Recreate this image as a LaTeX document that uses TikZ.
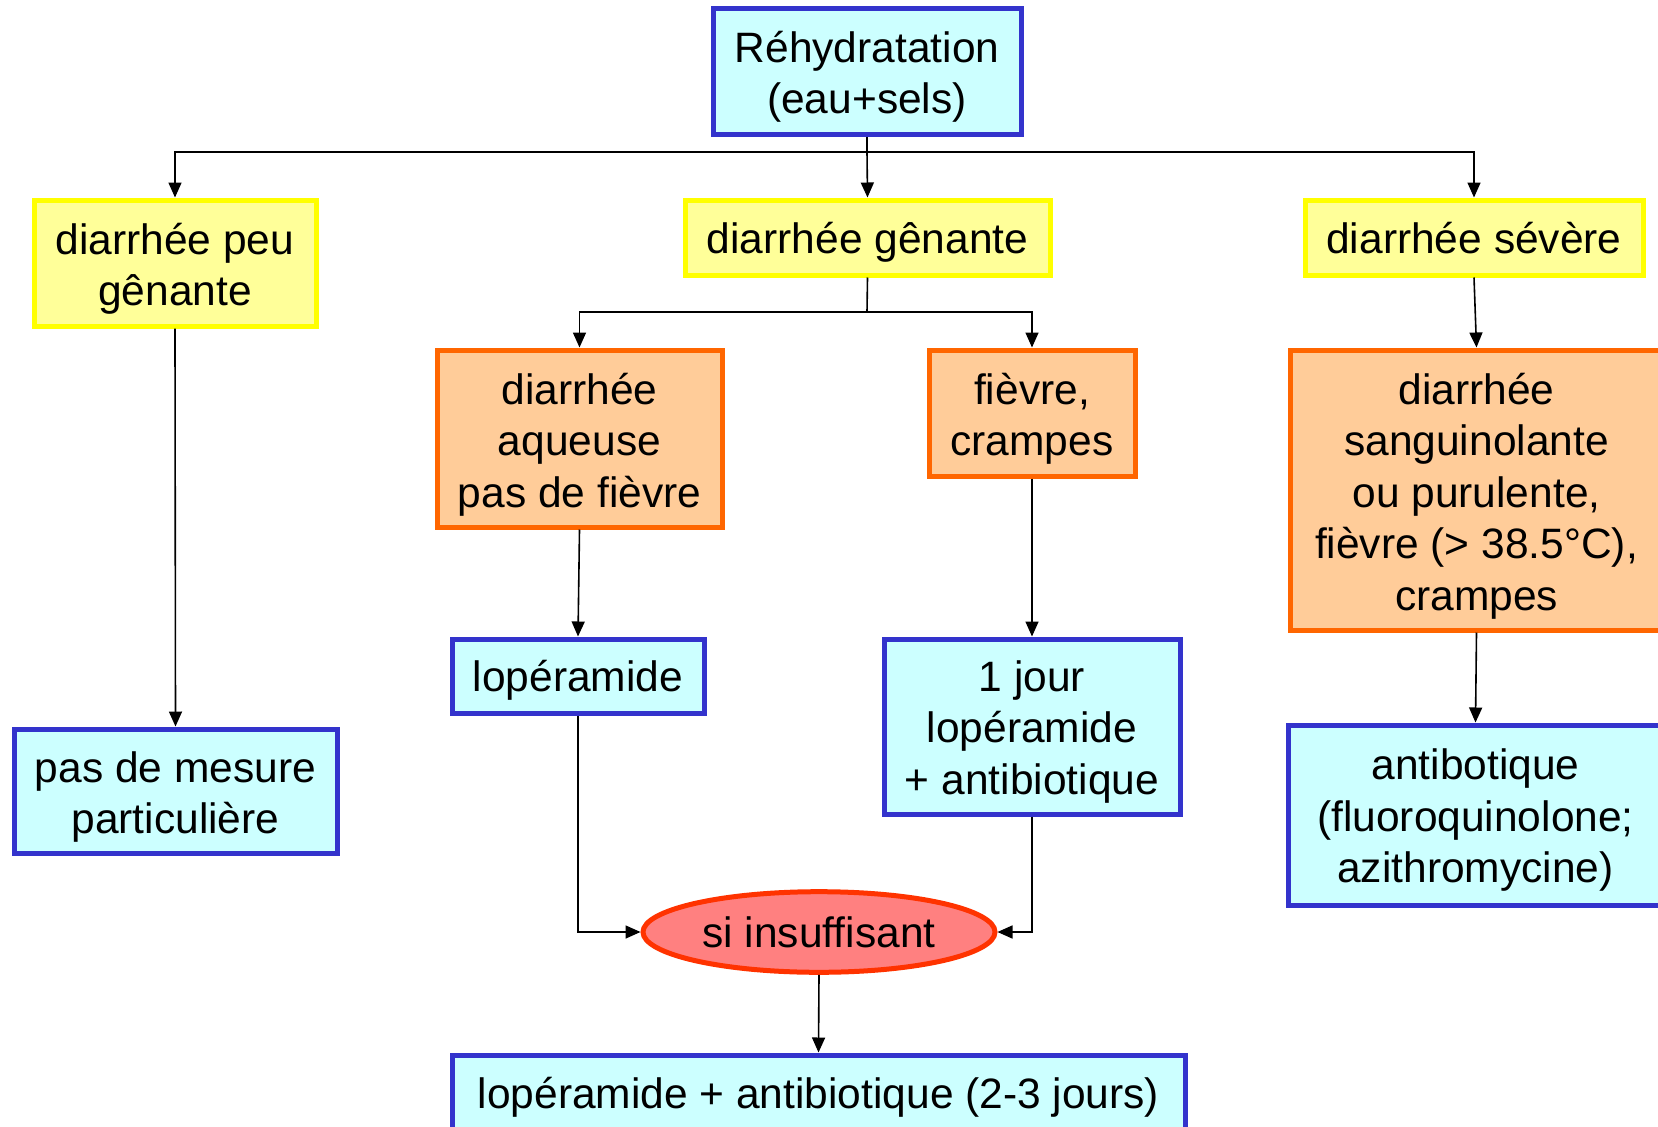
\documentclass[tikz,border=0pt]{standalone}
\usepackage{fontspec}
\setmainfont{Liberation Sans}
\usetikzlibrary{arrows.meta,shapes.geometric}
\definecolor{bluebd}{HTML}{3333CC}
\definecolor{cyanfill}{HTML}{CCFFFF}
\definecolor{yelbd}{HTML}{FFFF00}
\definecolor{yelfill}{HTML}{FFFF99}
\definecolor{orbd}{HTML}{FF6600}
\definecolor{orfill}{HTML}{FFCC99}
\definecolor{redbd}{HTML}{FF3300}
\definecolor{redfill}{HTML}{FF8080}
\tikzset{
  base/.style={draw, line width=5pt, inner sep=0pt, align=flush center,
    font=\fontsize{42.5}{51.5}\selectfont,
    execute at begin node={\rule{0pt}{#1}},
    execute at end node={\rule[-13pt]{0pt}{0pt}}},
  base/.default=44pt,
  bluebox/.style={base=#1, rectangle, draw=bluebd, fill=cyanfill},
  bluebox/.default=44pt,
  yelbox/.style={base=#1, rectangle, draw=yelbd, fill=yelfill},
  yelbox/.default=44pt,
  orbox/.style={base=#1, rectangle, draw=orbd, fill=orfill},
  orbox/.default=44pt,
  redell/.style={base, ellipse, draw=redbd, fill=redfill},
  arr/.style={line width=1.6pt, -{Triangle[length=15pt,width=13pt]}},
  ln/.style={line width=1.6pt},
}
\begin{document}
\begin{tikzpicture}[x=1pt,y=-1pt]
\clip (0,0) rectangle (1658,1127);
\fill[white] (0,0) rectangle (1658,1127);
\node[bluebox=47pt, text width=296pt, minimum width=308pt, minimum height=126pt] (reh) at (867,71) {Réhydratation\\(eau+sels)};
\node[yelbox=47pt, text width=270pt, minimum width=282pt, minimum height=126pt] (peu) at (175,263) {diarrhée peu\\gênante};
\node[yelbox, minimum width=365pt, minimum height=75pt] (gen) at (867.5,237.5) {diarrhée gênante};
\node[yelbox, minimum width=338pt, minimum height=75pt] (sev) at (1474,237.5) {diarrhée sévère};
\node[orbox=47pt, text width=275pt, minimum width=285pt, minimum height=177pt] (aq) at (579.5,438.5) {diarrhée\\aqueuse\\pas de fièvre};
\node[orbox=47pt, text width=196pt, minimum width=206pt, minimum height=126pt] (fc) at (1032,413) {fièvre,\\crampes};
\node[orbox=47pt, text width=363pt, minimum width=373pt, minimum height=280pt] (sang) at (1476.5,490) {diarrhée\\sanguinolante\\ou purulente,\\fièvre (> 38.5°C),\\crampes};
\node[bluebox, minimum width=252pt, minimum height=74pt] (lop) at (578,676) {lopéramide};
\node[bluebox=45pt, text width=286pt, minimum width=296pt, minimum height=175pt] (jour) at (1032,726.5) {1 jour\\lopéramide\\+ antibiotique};
\node[bluebox=47pt, text width=313pt, minimum width=323pt, minimum height=124pt] (pas) at (175.5,791) {pas de mesure\\particulière};
\node[bluebox=45pt, text width=365pt, minimum width=375pt, minimum height=180pt] (anti) at (1475.5,815) {antibotique\\(fluoroquinolone;\\azithromycine)};
\node[redell, minimum width=352pt, minimum height=78pt] (ell) at (819,932) {si insuffisant};
\node[bluebox, minimum width=733pt, minimum height=76pt] (bot) at (818.5,1093) {lopéramide + antibiotique (2-3 jours)};
\coordinate (j1) at (867,152);
\coordinate (j2) at (867,312);
\draw[ln] (reh.south) -- (j1);
\draw[arr] (j1) -- (gen.north);
\draw[arr] (j1) -| (peu.north);
\draw[arr] (j1) -| (sev.north);
\draw[ln] (gen.south) -- (j2);
\draw[arr] (j2) -| (aq.north);
\draw[arr] (j2) -| (fc.north);
\draw[arr] (sev.south) -- (sang.north);
\draw[arr] (peu.south) -- (pas.north);
\draw[arr] (aq.south) -- (lop.north);
\draw[arr] (fc.south) -- (jour.north);
\draw[arr] (sang.south) -- (anti.north);
\draw[arr] (lop.south) |- (ell.west);
\draw[arr] (jour.south) |- (ell.east);
\draw[arr] (ell.south) -- (bot.north);
\end{tikzpicture}
\end{document}
